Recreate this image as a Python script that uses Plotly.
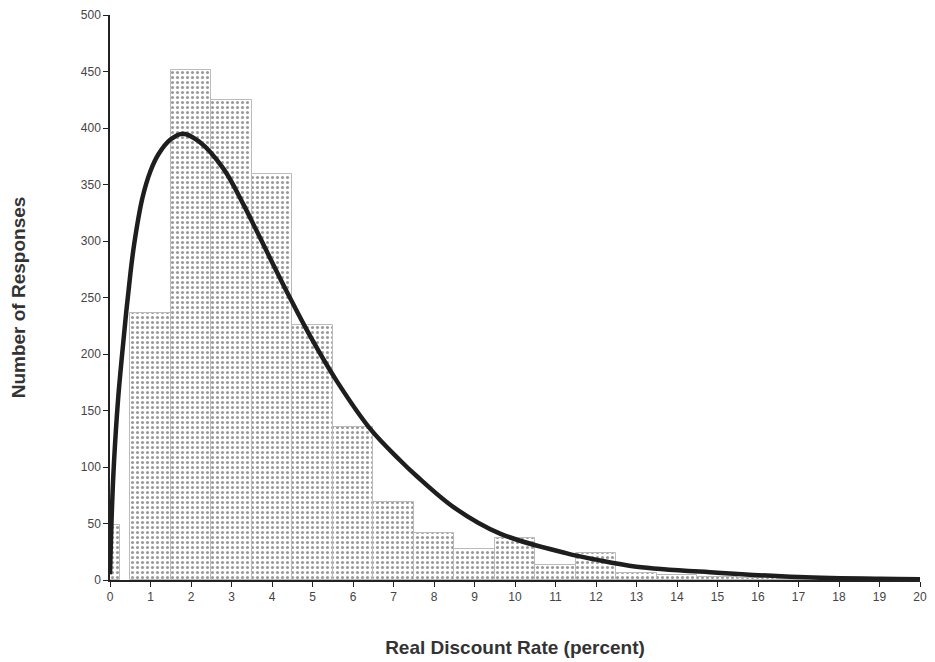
import plotly.graph_objects as go

# Histogram bins (centre of each bin, percent) and response counts
bin_centers = [0, 1, 2, 3, 4, 5, 6, 7, 8, 9, 10, 11, 12, 13, 14, 15, 16, 17, 18, 19, 20]
bin_counts = [49, 236, 451, 425, 359, 226, 135, 69, 42, 27, 37, 13, 24, 6, 4, 3, 2, 1, 1, 0, 0]
bin_widths = [0.5] + [1.0] * 20

# Fitted distribution curve
curve_x = [0, 0.05, 0.1, 0.2, 0.3, 0.4, 0.5, 0.6, 0.8, 1.0, 1.2, 1.5, 1.8, 2.2, 2.8,
           3.3, 3.62, 3.95, 4.44, 4.94, 5.6, 6.42, 7.16, 7.57, 8.5, 9.63, 11.28,
           12.0, 13.0, 15.0, 17.0, 19.0, 20.0]
curve_y = [5, 65, 105, 160, 200, 237, 270, 298, 338, 362, 377, 390, 395, 388, 364,
           332, 309, 285, 250, 216, 176, 134, 106, 92, 64, 41, 23.6,
           18, 11.8, 6.5, 2.6, 1.0, 0.7]

x_ticks = list(range(0, 21))
y_ticks = list(range(0, 501, 50))

fig = go.Figure()

fig.add_trace(go.Bar(
    x=bin_centers,
    y=bin_counts,
    width=bin_widths,
    marker=dict(
        color="white",
        line=dict(color="#bbbbbb", width=1),
        pattern=dict(shape=".", fgcolor="#333333", bgcolor="white",
                     size=5, solidity=0.3),
    ),
    showlegend=False,
    hoverinfo="x+y",
))

fig.add_trace(go.Scatter(
    x=curve_x,
    y=curve_y,
    mode="lines",
    line=dict(color="#1e1e1e", width=4.5, shape="spline", smoothing=1.0),
    showlegend=False,
))

fig.update_layout(
    width=935,
    height=662,
    margin=dict(l=102, r=23, t=7, b=90),
    paper_bgcolor="white",
    plot_bgcolor="white",
    bargap=0,
    font=dict(family="Liberation Sans, Arial, sans-serif", color="#444444"),
    xaxis=dict(
        range=[0, 20],
        tickvals=x_ticks,
        ticktext=[str(v) for v in x_ticks],
        showgrid=False,
        zeroline=False,
        showline=True,
        linecolor="#222222",
        linewidth=1.5,
        ticks="outside",
        ticklen=5,
        tickcolor="#222222",
        automargin=False,
        tickfont=dict(size=12, color="#444444"),
        title=dict(text="<b>Real Discount Rate (percent)</b>",
                   font=dict(size=19, color="#333333"), standoff=38),
    ),
    yaxis=dict(
        range=[0, 500],
        tickvals=y_ticks,
        ticktext=[str(v) for v in y_ticks],
        showgrid=False,
        zeroline=False,
        showline=True,
        linecolor="#222222",
        linewidth=1.5,
        ticks="outside",
        ticklen=5,
        tickcolor="#222222",
        automargin=False,
        tickfont=dict(size=12, color="#444444"),
        title=dict(text="<b>Number of Responses</b>",
                   font=dict(size=19, color="#333333"), standoff=53),
    ),
)

fig.write_html("out.html")
